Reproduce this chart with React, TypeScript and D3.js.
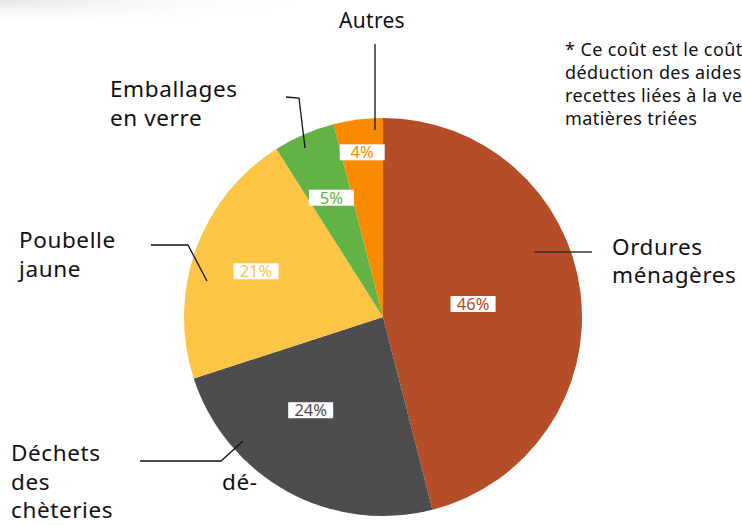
import React from "react";
import * as d3 from "d3";

const categories = ["Ordures ménagères", "Déchets des chèteries", "Poubelle jaune", "Emballages en verre", "Autres"];
const values = [46, 24, 21, 5, 4];
const colors = ["#B44D28", "#4D4D4D", "#FCC545", "#62B246", "#F98B00"];
const noteLines = [
  "* Ce coût est le coût aidé après",
  "déduction des aides et des",
  "recettes liées à la vente des",
  "matières triées",
];

const W = 742, H = 525;
const cx = 383, cy = 317, R = 199;
// label layout (radius, angle shift in degrees)
const labelR = [91, 118, 135, 130, 166];
const labelShift = [-1, 9, 0, 0, 0];

const FONT = "'Noto Sans', sans-serif";

export default function App() {
  const pie = d3.pie<number>().sort(null).value((d) => d);
  const arcs = pie(values);
  const arc = d3.arc<d3.PieArcDatum<number>>().innerRadius(0).outerRadius(R);
  const fmt = (v: number) => `${v}%`;

  const labelPos = (i: number) => {
    const a = arcs[i];
    const mid = (a.startAngle + a.endAngle) / 2 + (labelShift[i] * Math.PI) / 180;
    return [cx + labelR[i] * Math.sin(mid), cy - labelR[i] * Math.cos(mid)];
  };

  const line = d3.line();

  return (
    <svg width={W} height={H} style={{ position: "absolute", left: 0, top: 0, background: "#fff" }} fontFamily={FONT}>
      <defs>
        <radialGradient id="shadow" cx="0" cy="0" r="1" gradientUnits="userSpaceOnUse"
          gradientTransform="translate(0,0) scale(320,28)">
          <stop offset="0" stopColor="#e6e6e6" />
          <stop offset="1" stopColor="#ffffff" stopOpacity="0" />
        </radialGradient>
      </defs>
      <rect x={0} y={0} width={330} height={30} fill="url(#shadow)" />
      <g transform={`translate(${cx},${cy})`}>
        {arcs.map((a, i) => (
          <path key={i} d={arc(a) || ""} fill={colors[i]} />
        ))}
      </g>
      {/* leader lines */}
      <g stroke="#111" strokeWidth={1.3} fill="none">
        <path d={line([[375, 44], [375, 130]]) || ""} />
        <path d={line([[286, 97], [299, 98], [305, 148]]) || ""} />
        <path d={line([[151, 245], [188, 245], [207, 281]]) || ""} />
        <path d={line([[140, 461], [221, 461], [243, 441]]) || ""} />
        <path d={line([[534, 252], [592, 252]]) || ""} stroke="#333" />
      </g>
      {/* percentage boxes */}
      {values.map((v, i) => {
        const [x, y] = labelPos(i);
        return (
          <g key={i} transform={`translate(${x},${y})`}>
            <rect x={-22.5} y={-8} width={45} height={16} fill="#fff" />
            <text textAnchor="middle" dy="0.36em" fontSize={16.5} fill={colors[i]}>{fmt(v)}</text>
          </g>
        );
      })}
      {/* category labels */}
      <g fontSize={22.5} fill="#111" letterSpacing={0.6}>
        <text x={339} y={28} fontSize={21} letterSpacing={0.3}>Autres</text>
        <text x={110} y={97}>Emballages</text>
        <text x={110} y={126}>en verre</text>
        <text x={19} y={248}>Poubelle</text>
        <text x={19} y={277}>jaune</text>
        <text x={11} y={461}>Déchets</text>
        <text x={11} y={490}>des</text>
        <text x={11} y={518}>chèteries</text>
        <text x={222} y={490}>dé-</text>
        <text x={612} y={255}>Ordures</text>
        <text x={612} y={283}>ménagères</text>
      </g>
      <g fontSize={18} fill="#111" letterSpacing={0.4}>
        {noteLines.map((t, i) => (
          <text key={i} x={565} y={56 + i * 23}>{t}</text>
        ))}
      </g>
    </svg>
  );
}
